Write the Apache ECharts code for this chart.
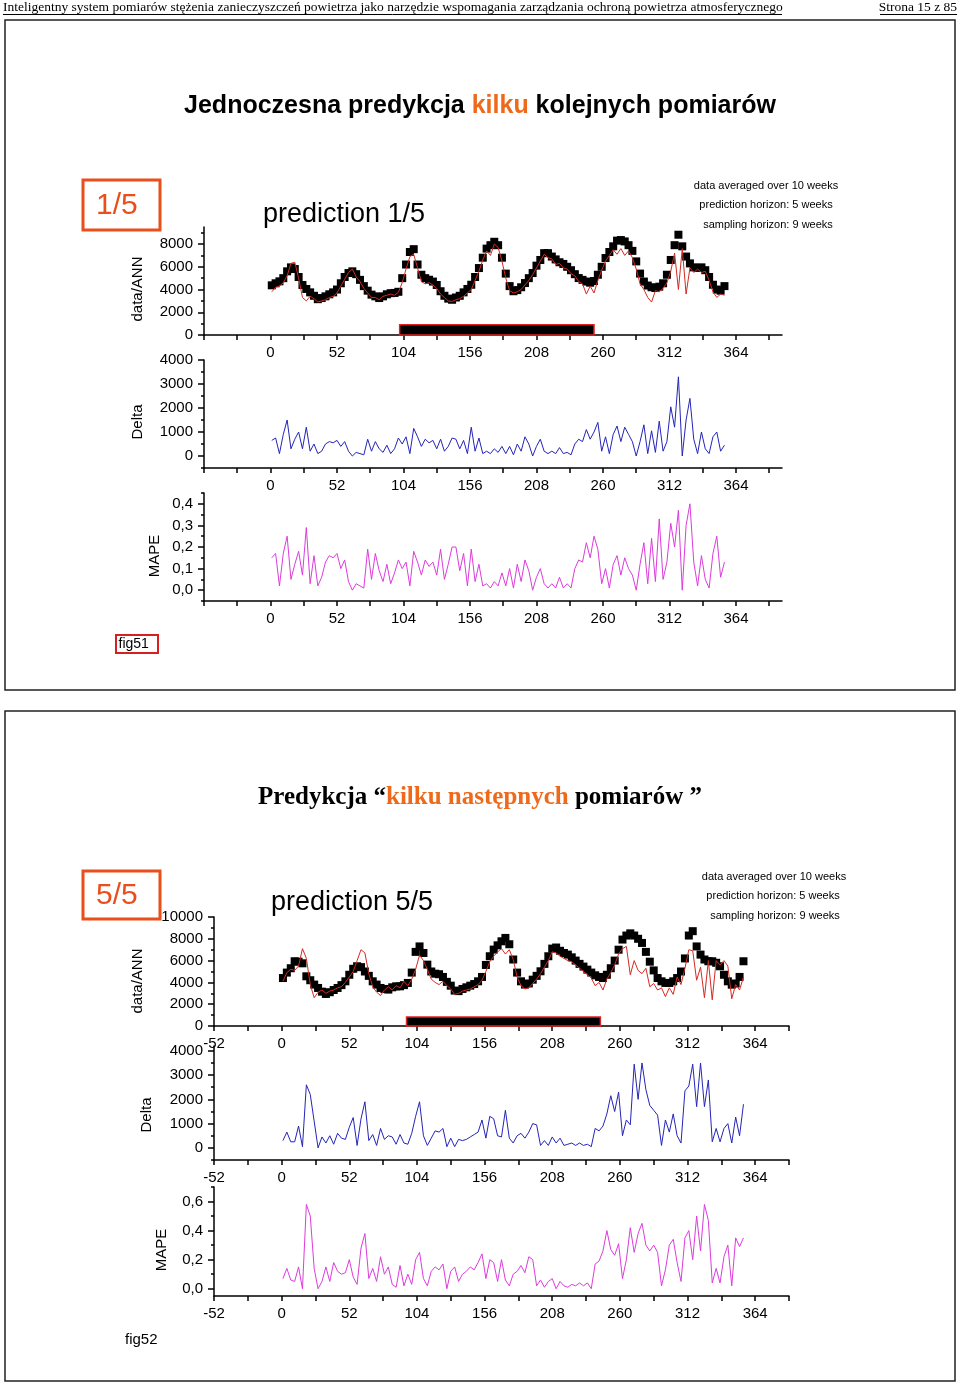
<!DOCTYPE html>
<html><head><meta charset="utf-8">
<script src="https://cdn.jsdelivr.net/npm/echarts@6/dist/echarts.min.js"></script>
<style>html,body{margin:0;padding:0;background:#fff}#c{width:960px;height:1385px}</style>
</head><body><div id="c"></div><script>
// weeks: first sample week and step between samples
const weekStart = 1, weekStep = 3;

// ---- panel 1 (prediction 1/5) ----
const data1 = [4370,4550,4720,5000,5600,5950,5800,5100,4400,4050,
 3750,3450,3150,3250,3400,3580,3750,4000,4550,5100,
 5450,5600,5350,4850,4300,3900,3550,3400,3250,3400,
 3580,3680,3700,3800,5000,6200,7300,7550,6200,5300,
 5000,4860,4700,4400,3850,3450,3200,3100,3300,3450,
 3750,4050,4420,5100,5890,6800,7600,7900,8200,7900,
 6800,5400,4300,3850,3950,4200,4570,5000,5450,6100,
 6600,7200,7200,6900,6650,6400,6250,6000,5700,5350,
 5010,4850,4700,4600,4750,5300,6000,6770,7300,7800,
 8300,8350,8230,7900,7400,6475,5400,4700,4350,4200,
 4130,4250,4550,5300,6600,7900,8820,7800,6900,6300,
 5950,5900,5950,5700,5100,4420,4000,3900,4300];
const ann1 = [3800,4200,4300,4600,5200,6300,6400,5000,3300,3000,
 3400,3200,2900,3000,3100,3300,3400,3700,4300,4900,
 5500,5800,5100,4700,4100,3700,3300,3300,3100,3400,
 3500,3600,3500,3750,4600,5800,6900,7100,5900,4700,
 4500,4600,4400,4100,3600,3300,3000,2950,3100,3200,
 3400,3700,4000,4800,5600,6600,7400,7000,8000,7700,
 6500,5000,3900,3700,3800,4000,4400,4800,5300,5900,
 6500,7100,6800,6700,6200,6300,5900,5800,5400,5200,
 4700,4500,3600,4300,3700,4800,5700,6500,7000,7500,
 7100,7600,7000,7400,6800,5800,4500,4000,3300,2900,
 3900,3800,4100,4600,5600,7200,4000,7600,3600,5900,
 5500,5800,5500,5600,4800,3800,3300,3600,3500];
const delta1 = [650,750,100,900,1500,300,700,1000,300,1200,
 200,500,100,200,500,600,550,650,400,600,
 200,0,150,100,50,700,200,600,300,150,
 450,100,300,750,500,800,100,1150,800,400,
 700,550,650,300,700,200,400,750,700,300,
 650,100,1200,200,750,100,200,100,300,150,
 400,100,400,50,500,200,800,500,0,400,
 700,200,100,200,100,350,100,150,50,500,
 700,600,1100,700,1000,1400,200,800,100,900,
 1250,600,1200,900,600,0,600,1300,100,1050,
 150,1450,200,600,2050,1200,3300,0,1500,2400,
 700,100,1000,300,100,800,1000,200,450];
const mape1 = [0.15,0.17,0.02,0.17,0.25,0.05,0.12,0.18,0.07,0.29,
 0.03,0.16,0.02,0.06,0.13,0.16,0.15,0.17,0.1,0.14,
 0.04,0.0,0.03,0.02,0.01,0.19,0.05,0.17,0.09,0.04,
 0.12,0.03,0.08,0.14,0.1,0.13,0.02,0.18,0.13,0.07,
 0.14,0.11,0.13,0.07,0.19,0.05,0.12,0.2,0.2,0.09,
 0.17,0.02,0.19,0.04,0.12,0.02,0.03,0.01,0.04,0.02,
 0.08,0.02,0.1,0.01,0.12,0.04,0.14,0.09,0.0,0.06,
 0.1,0.03,0.01,0.03,0.01,0.06,0.01,0.03,0.01,0.1,
 0.14,0.13,0.22,0.15,0.25,0.19,0.03,0.1,0.01,0.12,
 0.16,0.07,0.15,0.1,0.07,0.0,0.12,0.22,0.03,0.24,
 0.04,0.33,0.05,0.13,0.31,0.2,0.37,0.0,0.3,0.4,
 0.13,0.02,0.16,0.05,0.01,0.17,0.25,0.06,0.13];
const train1 = [101, 253, 900]; // bar start week, end week, height

// ---- panel 2 (prediction 5/5) ----
const data5 = [4400,4900,5300,5940,5900,5750,4560,4200,3800,3490,
 3150,2940,3100,3300,3490,3750,4100,4700,5250,5480,
 5400,5000,4600,4100,3800,3490,3400,3340,3550,3640,
 3640,3750,3950,4900,6800,7300,6700,5630,5000,4800,
 4750,4500,4050,3700,3250,3200,3400,3550,3700,3850,
 4100,4500,5600,6400,7010,7400,7770,8080,7500,6100,
 4900,4100,3800,3900,4250,4600,5020,5700,6400,7100,
 7200,6900,6700,6550,6300,6000,5700,5450,5170,4900,
 4650,4500,4400,4700,5300,6000,7000,7930,8300,8500,
 8300,8000,7620,6800,5900,5100,4400,4100,3950,3950,
 4100,4400,5000,6200,8300,8700,7300,6550,6100,5940,
 5940,5800,5480,4700,4100,3790,3900,4500,5940];
const ann5 = [4100,4900,5200,5100,5500,7100,6200,3800,2600,3100,
 3300,3000,3200,3300,3500,3600,4000,4500,5000,6000,
 7000,6700,4800,3600,3100,2800,3300,3600,3300,3700,
 3500,4100,3700,4300,5200,6500,6000,5200,4300,4000,
 3800,4100,3700,3400,2900,3000,3200,3300,3400,3600,
 3800,4200,5000,5900,6400,6800,7100,6600,7000,6100,
 4500,3700,3400,3500,3900,4300,4800,5400,6000,6800,
 6700,6400,6200,6000,5900,5600,5300,5000,4700,4400,
 3700,4000,3300,4300,4900,5600,6600,7100,7300,4700,
 6000,5100,4800,5300,3600,3900,3300,3500,2700,3500,
 2900,4500,3800,5300,7000,6900,4200,5400,2600,6000,
 2400,6000,5600,6000,5500,2500,3800,3300,4500];
const delta5 = [300,650,250,250,900,50,2600,2200,1100,0,
 450,200,500,150,600,400,350,850,1250,100,
 1200,1900,300,550,100,800,350,500,450,150,
 550,200,150,600,1300,1900,500,100,400,700,
 650,800,50,400,50,350,300,350,450,550,
 650,1150,400,1300,1200,500,450,1550,400,200,
 500,600,400,650,1000,950,100,300,100,450,
 200,400,100,150,200,100,200,100,150,50,
 800,700,900,1400,2150,1500,2300,500,1150,950,
 3450,2000,3500,2400,1750,1550,1350,100,1150,650,
 1400,500,200,2350,2550,3450,1700,3500,1700,2800,
 250,800,250,800,1000,200,1270,500,1800];
const mape5 = [0.07,0.14,0.06,0.05,0.15,0.0,0.58,0.5,0.14,0.0,
 0.05,0.15,0.05,0.18,0.12,0.1,0.11,0.2,0.08,0.03,
 0.28,0.38,0.07,0.14,0.05,0.22,0.1,0.15,0.03,0.01,
 0.16,0.02,0.1,0.03,0.2,0.25,0.07,0.02,0.12,0.15,
 0.13,0.17,0.0,0.12,0.15,0.05,0.1,0.12,0.15,0.13,
 0.18,0.24,0.07,0.2,0.18,0.05,0.2,0.06,0.02,0.1,
 0.12,0.16,0.11,0.22,0.2,0.02,0.06,0.01,0.05,0.07,
 0.0,0.05,0.02,0.01,0.03,0.02,0.04,0.02,0.04,0.0,
 0.17,0.19,0.26,0.4,0.27,0.23,0.31,0.07,0.2,0.42,
 0.25,0.38,0.45,0.3,0.26,0.3,0.25,0.02,0.13,0.3,
 0.34,0.18,0.05,0.35,0.4,0.2,0.5,0.26,0.58,0.47,
 0.04,0.14,0.04,0.22,0.3,0.02,0.35,0.29,0.35];
const train5 = [96, 245, 830];

// ---- tick labels ----
const xTicks = [-52,-26,0,26,52,78,104,130,156,182,208,234,260,286,312,338,364,390];
const xLabels1 = [0,52,104,156,208,260,312,364];
const xLabels5 = [-52,0,52,104,156,208,260,312,364];
const p1DataMajor = [0,2000,4000,6000,8000], p1DataMinor = [1000,3000,5000,7000,9000];
const p1DeltaMajor = [0,1000,2000,3000,4000], p1DeltaMinor = [-500,500,1500,2500,3500];
const p1MapeMajor = [0,0.1,0.2,0.3,0.4], p1MapeMinor = [-0.05,0.05,0.15,0.25,0.35,0.45];
const p5DataMajor = [0,2000,4000,6000,8000,10000], p5DataMinor = [1000,3000,5000,7000,9000];
const p5DeltaMajor = [0,1000,2000,3000,4000], p5DeltaMinor = [-500,500,1500,2500,3500];
const p5MapeMajor = [0,0.2,0.4,0.6], p5MapeMinor = [0.1,0.3,0.5,0.7];

const FONT = 'Liberation Sans';
const pts = arr => arr.map((v, i) => [weekStart + weekStep * i, v]);
const axisStyle = {color:'#000', width:1.5};
const comma = v => v.toFixed(1).replace('.', ',');

const grids = [
  {left:204, top:227, width:578, height:108},
  {left:204, top:360, width:578, height:108},
  {left:204, top:493, width:578, height:108},
  {left:214, top:917, width:575, height:109},
  {left:214, top:1046, width:575, height:114},
  {left:214, top:1187, width:575, height:109}
];
function xAx(g, max, labels) {
  return {gridIndex:g, type:'value', min:-52, max:max, position:'bottom',
    axisLine:{show:true, onZero:false, lineStyle:axisStyle},
    axisTick:{show:true, length:5, customValues:xTicks, lineStyle:axisStyle},
    axisLabel:{customValues:labels, fontFamily:FONT, fontSize:15, color:'#000', margin:10, formatter:v=>String(v)},
    splitLine:{show:false}};
}
function yAx(g, min, max, major, minor, fmt) {
  return [
    {gridIndex:g, type:'value', min:min, max:max, position:'left',
     axisLine:{show:true, onZero:false, lineStyle:axisStyle},
     axisTick:{show:true, length:6, customValues:major, lineStyle:axisStyle},
     axisLabel:{customValues:major, fontFamily:FONT, fontSize:15, color:'#000', margin:11, formatter:fmt},
     splitLine:{show:false}},
    {gridIndex:g, type:'value', min:min, max:max, position:'left', offset:0,
     axisLine:{show:false, onZero:false},
     axisTick:{show:true, length:3, customValues:minor, lineStyle:axisStyle},
     axisLabel:{show:false}, splitLine:{show:false}}
  ];
}
const num = v => String(v);
const yAxes = [].concat(
  yAx(0, 0, 9500, p1DataMajor, p1DataMinor, num),
  yAx(1, -500, 4000, p1DeltaMajor, p1DeltaMinor, num),
  yAx(2, -0.05, 0.45, p1MapeMajor, p1MapeMinor, comma),
  yAx(3, 0, 10000, p5DataMajor, p5DataMinor, num),
  yAx(4, -500, 4200, p5DeltaMajor, p5DeltaMinor, num),
  yAx(5, -0.05, 0.7, p5MapeMajor, p5MapeMinor, comma)
);
const xAxes = [xAx(0,400,xLabels1), xAx(1,400,xLabels1), xAx(2,400,xLabels1),
               xAx(3,390,xLabels5), xAx(4,390,xLabels5), xAx(5,390,xLabels5)];

function squares(g, arr, train) {
  return {type:'scatter', xAxisIndex:g, yAxisIndex:2*g, data:pts(arr), symbol:'rect', symbolSize:8,
    itemStyle:{color:'#000', opacity:1}, z:2,
    markArea:{silent:true, itemStyle:{color:'#000', opacity:1, borderColor:'#e02222', borderWidth:1.5},
      data:[[{xAxis:train[0], yAxis:0},{xAxis:train[1], yAxis:train[2]}]]}};
}
function line(g, arr, color) {
  return {type:'line', xAxisIndex:g, yAxisIndex:2*g, data:pts(arr), showSymbol:false, symbol:'none',
    lineStyle:{color:color, width:1}, itemStyle:{color:color}, z:3};
}
const RED = '#d42a22', BLUE = '#2424b8', MAG = '#dc3cdc', ORANGE = '#ee6a1a', BOXRED = '#e94e1b';
const series = [
  squares(0, data1, train1), line(0, ann1, RED), line(1, delta1, BLUE), line(2, mape1, MAG),
  squares(3, data5, train5), line(3, ann5, RED), line(4, delta5, BLUE), line(5, mape5, MAG)
];

function txt(x, y, text, size, opts) {
  return Object.assign({type:'text', x:x, y:y, z:100, style:Object.assign({text:text, fontSize:size, fontFamily:FONT,
    fill:'#000', textVerticalAlign:'middle', verticalAlign:'middle', textAlign:'left', align:'left'}, opts||{})});
}
function vtxt(x, y, text, size) {
  const t = txt(x, y, text, size, {textAlign:'center', align:'center'});
  t.rotation = Math.PI/2; return t;
}
const header = 'Inteligentny system pomiarów stężenia zanieczyszczeń powietrza jako narzędzie wspomagania zarządzania ochroną powietrza atmosferycznego';
const C = {textAlign:'center', align:'center'};
const graphics = [
  txt(3, 7, header, 13.5, {fontFamily:'Liberation Serif'}),
  {type:'line', z:100, shape:{x1:3,y1:14.5,x2:782,y2:14.5}, style:{stroke:'#000', lineWidth:1}},
  txt(957, 7, 'Strona 15 z 85', 13.5, {fontFamily:'Liberation Serif', textAlign:'right', align:'right'}),
  {type:'line', z:100, shape:{x1:880,y1:14.5,x2:957,y2:14.5}, style:{stroke:'#000', lineWidth:1}},
  {type:'rect', z:1, shape:{x:5,y:20,width:950,height:670}, style:{fill:'none', stroke:'#222', lineWidth:1.5}},
  {type:'rect', z:1, shape:{x:5,y:711,width:950,height:670}, style:{fill:'none', stroke:'#222', lineWidth:1.5}},
  // panel 1
  {type:'rect', z:100, shape:{x:83,y:180,width:77,height:50}, style:{fill:'#fff', stroke:BOXRED, lineWidth:3}},
  txt(96, 206, '1/5', 30, {fill:BOXRED}),
  txt(263, 215, 'prediction 1/5', 27),
  txt(766, 186, 'data averaged over 10 weeks', 11, C),
  txt(766, 205, 'prediction horizon: 5 weeks', 11, C),
  txt(768, 225, 'sampling horizon: 9 weeks', 11, C),
  vtxt(138, 289, 'data/ANN', 15), vtxt(138, 422, 'Delta', 15), vtxt(155, 556, 'MAPE', 15),
  {type:'rect', z:100, shape:{x:116,y:635,width:42,height:18}, style:{fill:'#fff', stroke:'#d42020', lineWidth:2}},
  txt(118.5, 644.5, 'fig51', 14),
  // panel 2
  {type:'rect', z:100, shape:{x:83,y:871,width:77,height:48}, style:{fill:'#fff', stroke:BOXRED, lineWidth:3}},
  txt(96, 896, '5/5', 30, {fill:BOXRED}),
  txt(271, 903, 'prediction 5/5', 27),
  txt(774, 877, 'data averaged over 10 weeks', 11, C),
  txt(773, 896, 'prediction horizon: 5 weeks', 11, C),
  txt(775, 916, 'sampling horizon: 9 weeks', 11, C),
  vtxt(138, 981, 'data/ANN', 15), vtxt(147, 1115, 'Delta', 15), vtxt(162, 1250, 'MAPE', 15),
  txt(125, 1340, 'fig52', 15)
];

const chart = echarts.init(document.getElementById('c'), null, {renderer:'canvas'});
chart.setOption({
  backgroundColor:'#fff', animation:false,
  title:[
    {left:'center', top:89, text:'{a|Jednoczesna predykcja }{o|kilku}{a| kolejnych pomiarów}',
     textStyle:{rich:{a:{fontFamily:FONT, fontWeight:'bold', fontSize:25, color:'#000'},
                      o:{fontFamily:FONT, fontWeight:'bold', fontSize:25, color:ORANGE}}}},
    {left:'center', top:780, text:'{a|Predykcja “}{o|kilku następnych}{a| pomiarów ”}',
     textStyle:{rich:{a:{fontFamily:'Liberation Serif', fontWeight:'bold', fontSize:25, color:'#000'},
                      o:{fontFamily:'Liberation Serif', fontWeight:'bold', fontSize:25, color:ORANGE}}}}
  ],
  grid:grids, xAxis:xAxes, yAxis:yAxes, series:series,
  graphic:{elements:graphics}
});
</script></body></html>
